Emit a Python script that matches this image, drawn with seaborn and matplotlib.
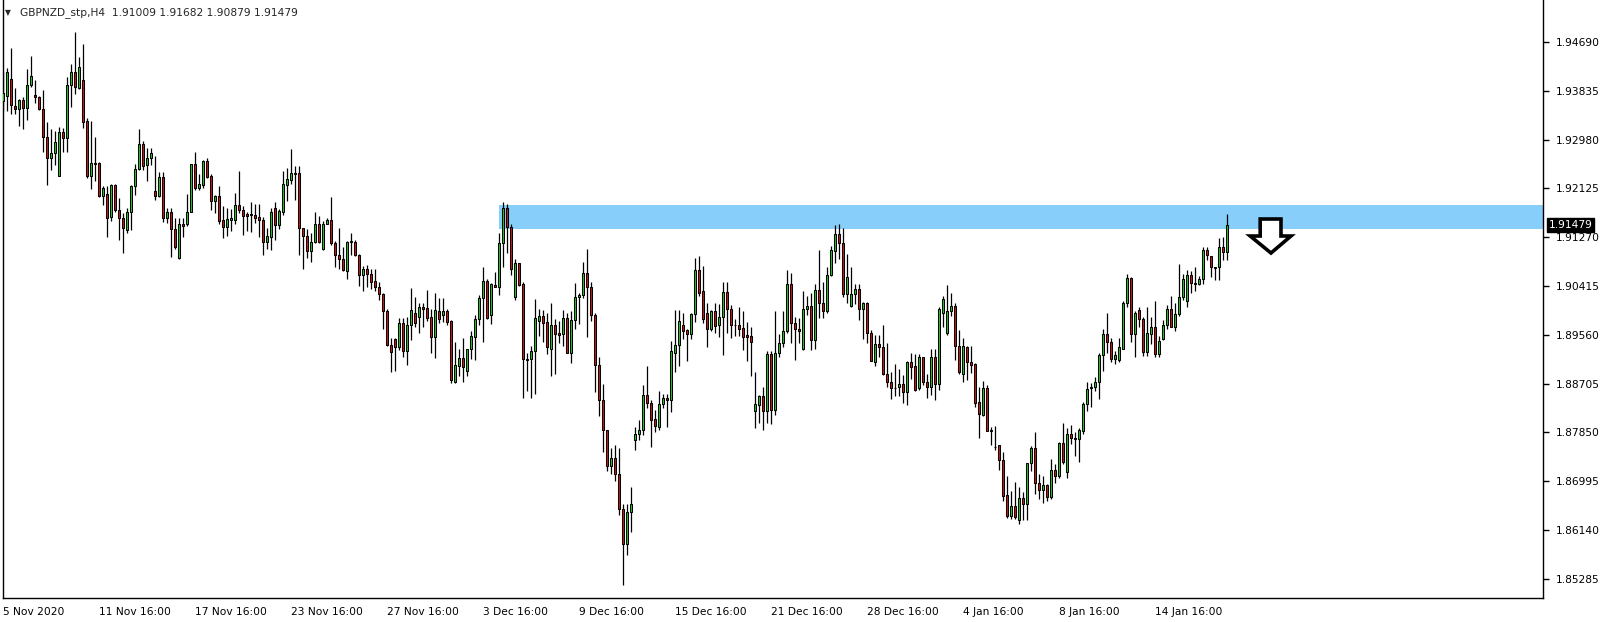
import matplotlib
matplotlib.use('Agg')
import numpy as np
import pandas as pd
import matplotlib.pyplot as plt
from matplotlib.patches import Rectangle, Polygon
import seaborn as sns

sns.set_style('white')
plt.rcParams['font.family'] = ['DejaVu Sans']

# GBPNZD H4 candles
opens = [1.9366, 1.9375, 1.9404, 1.9357, 1.9351, 1.9367, 1.9353, 1.9394, 1.9376, 1.9373,
         1.9351, 1.9303, 1.9265, 1.9275, 1.9235, 1.9312, 1.9300, 1.9393, 1.9416, 1.9388,
         1.9402, 1.9330, 1.9235, 1.9257, 1.9257, 1.9199, 1.9202, 1.9162, 1.9218, 1.9175,
         1.9161, 1.9140, 1.9172, 1.9217, 1.9246, 1.9291, 1.9253, 1.9265, 1.9208, 1.9199,
         1.9232, 1.9160, 1.9171, 1.9141, 1.9090, 1.9151, 1.9150, 1.9172, 1.9255, 1.9213,
         1.9218, 1.9260, 1.9234, 1.9191, 1.9199, 1.9157, 1.9145, 1.9157, 1.9158, 1.9183,
         1.9175, 1.9168, 1.9167, 1.9166, 1.9162, 1.9157, 1.9119, 1.9128, 1.9178, 1.9149,
         1.9172, 1.9219, 1.9228, 1.9239, 1.9239, 1.9144, 1.9130, 1.9102, 1.9118, 1.9150,
         1.9106, 1.9151, 1.9157, 1.9116, 1.9095, 1.9088, 1.9068, 1.9119, 1.9119, 1.9095,
         1.9060, 1.9072, 1.9062, 1.9050, 1.9040, 1.9027, 1.8998, 1.8938, 1.8948, 1.8934,
         1.8976, 1.8928, 1.8973, 1.8995, 1.8988, 1.9005, 1.9003, 1.8987, 1.8953, 1.8998,
         1.8990, 1.8998, 1.8980, 1.8874, 1.8902, 1.8915, 1.8893, 1.8931, 1.8953, 1.8983,
         1.9021, 1.9050, 1.8990, 1.9044, 1.9040, 1.9116, 1.9179, 1.9145, 1.9023, 1.9081,
         1.9045, 1.8913, 1.8913, 1.8927, 1.8981, 1.8989, 1.8978, 1.8932, 1.8973, 1.8959,
         1.8957, 1.8986, 1.8925, 1.8982, 1.9023, 1.9025, 1.9064, 1.9040, 1.8990, 1.8903,
         1.8841, 1.8789, 1.8727, 1.8740, 1.8712, 1.8650, 1.8590, 1.8645, 1.8771, 1.8782,
         1.8789, 1.8851, 1.8837, 1.8808, 1.8794, 1.8834, 1.8846, 1.8841, 1.8925, 1.8938,
         1.8973, 1.8964, 1.8957, 1.8992, 1.9070, 1.9033, 1.8995, 1.8966, 1.8998, 1.8973,
         1.8987, 1.9031, 1.9002, 1.8974, 1.8974, 1.8968, 1.8955, 1.8954, 1.8823, 1.8833,
         1.8849, 1.8823, 1.8922, 1.8824, 1.8924, 1.8941, 1.8962, 1.9045, 1.8976, 1.8967,
         1.8931, 1.9001, 1.9007, 1.8947, 1.9035, 1.9011, 1.8997, 1.9061, 1.9103, 1.9133,
         1.9116, 1.9027, 1.9007, 1.9027, 1.9037, 1.9001, 1.9011, 1.8960, 1.8908, 1.8940,
         1.8934, 1.8888, 1.8874, 1.8862, 1.8865, 1.8870, 1.8856, 1.8908, 1.8901, 1.8862,
         1.8917, 1.8874, 1.8865, 1.8918, 1.8869, 1.8994, 1.8960, 1.8997, 1.9007, 1.8937,
         1.8888, 1.8934, 1.8908, 1.8905, 1.8838, 1.8816, 1.8862, 1.8790, 1.8760, 1.8763,
         1.8736, 1.8675, 1.8639, 1.8656, 1.8632, 1.8670, 1.8660, 1.8731, 1.8757, 1.8697,
         1.8684, 1.8693, 1.8671, 1.8719, 1.8709, 1.8766, 1.8715, 1.8782, 1.8776, 1.8774,
         1.8788, 1.8835, 1.8862, 1.8864, 1.8873, 1.8920, 1.8957, 1.8943, 1.8914, 1.8912,
         1.8932, 1.9011, 1.9055, 1.8957, 1.8999, 1.8983, 1.8926, 1.8958, 1.8969, 1.8922,
         1.8949, 1.8973, 1.9001, 1.8970, 1.8992, 1.9022, 1.9015, 1.9061, 1.9046, 1.9045,
         1.9053, 1.9104, 1.9094, 1.9074, 1.9074, 1.9109, 1.91009]
highs = [1.9417, 1.9424, 1.9458, 1.9388, 1.9369, 1.9373, 1.9422, 1.9444, 1.9402, 1.9374,
         1.9385, 1.9328, 1.9317, 1.9313, 1.9320, 1.9318, 1.9408, 1.9431, 1.9487, 1.9443,
         1.9466, 1.9335, 1.9331, 1.9303, 1.9258, 1.9217, 1.9216, 1.9220, 1.9220, 1.9195,
         1.9169, 1.9179, 1.9218, 1.9255, 1.9316, 1.9296, 1.9284, 1.9283, 1.9269, 1.9242,
         1.9242, 1.9179, 1.9179, 1.9160, 1.9160, 1.9160, 1.9203, 1.9256, 1.9277, 1.9238,
         1.9263, 1.9265, 1.9238, 1.9201, 1.9217, 1.9181, 1.9178, 1.9176, 1.9205, 1.9243,
         1.9181, 1.9172, 1.9188, 1.9185, 1.9185, 1.9162, 1.9144, 1.9178, 1.9188, 1.9176,
         1.9243, 1.9248, 1.9282, 1.9251, 1.9251, 1.9144, 1.9141, 1.9134, 1.9171, 1.9164,
         1.9156, 1.9161, 1.9197, 1.9121, 1.9143, 1.9109, 1.9121, 1.9134, 1.9122, 1.9098,
         1.9077, 1.9078, 1.9072, 1.9072, 1.9049, 1.9029, 1.9002, 1.8950, 1.8950, 1.8985,
         1.8985, 1.8988, 1.9038, 1.9022, 1.9011, 1.9011, 1.9034, 1.9002, 1.9030, 1.9020,
         1.9020, 1.9002, 1.8982, 1.8944, 1.8932, 1.8950, 1.8932, 1.8962, 1.8991, 1.9026,
         1.9074, 1.9053, 1.9047, 1.9066, 1.9134, 1.9188, 1.9186, 1.9150, 1.9088, 1.9082,
         1.9049, 1.8924, 1.8936, 1.9019, 1.9001, 1.8999, 1.8994, 1.9011, 1.8983, 1.8980,
         1.8999, 1.8994, 1.8997, 1.9046, 1.9029, 1.9083, 1.9106, 1.9048, 1.8994, 1.8917,
         1.8870, 1.8789, 1.8757, 1.8763, 1.8757, 1.8660, 1.8660, 1.8690, 1.8795, 1.8807,
         1.8868, 1.8901, 1.8842, 1.8824, 1.8858, 1.8853, 1.8852, 1.8946, 1.9000, 1.9000,
         1.8995, 1.8967, 1.8995, 1.9090, 1.9094, 1.9077, 1.9011, 1.8999, 1.9011, 1.9010,
         1.9049, 1.9049, 1.9008, 1.8984, 1.9004, 1.8997, 1.8979, 1.8969, 1.8890, 1.8851,
         1.8865, 1.8928, 1.8928, 1.8998, 1.8957, 1.8998, 1.9070, 1.9065, 1.8987, 1.8986,
         1.9033, 1.9024, 1.9029, 1.9045, 1.9105, 1.9049, 1.9075, 1.9112, 1.9148, 1.9150,
         1.9144, 1.9098, 1.9074, 1.9045, 1.9045, 1.9014, 1.9014, 1.8964, 1.8956, 1.8956,
         1.8973, 1.8942, 1.8891, 1.8905, 1.8896, 1.8886, 1.8911, 1.8924, 1.8922, 1.8922,
         1.8918, 1.8887, 1.8931, 1.8932, 1.9005, 1.9024, 1.9043, 1.9029, 1.9011, 1.8964,
         1.8950, 1.8936, 1.8936, 1.8906, 1.8864, 1.8875, 1.8868, 1.8795, 1.8796, 1.8763,
         1.8751, 1.8709, 1.8682, 1.8699, 1.8689, 1.8680, 1.8731, 1.8761, 1.8785, 1.8712,
         1.8709, 1.8695, 1.8738, 1.8730, 1.8769, 1.8801, 1.8792, 1.8798, 1.8786, 1.8792,
         1.8839, 1.8874, 1.8872, 1.8882, 1.8924, 1.8967, 1.8994, 1.8950, 1.8928, 1.8950,
         1.9015, 1.9063, 1.9057, 1.8997, 1.9004, 1.8987, 1.9004, 1.8987, 1.9015, 1.8954,
         1.8982, 1.9008, 1.9024, 1.9011, 1.9080, 1.9063, 1.9070, 1.9067, 1.9074, 1.9059,
         1.9109, 1.9109, 1.9094, 1.9075, 1.9126, 1.9128, 1.91682]
lows = [1.9348, 1.9348, 1.9342, 1.9342, 1.9321, 1.9317, 1.9332, 1.9390, 1.9363, 1.9350,
        1.9277, 1.9219, 1.9245, 1.9254, 1.9234, 1.9277, 1.9277, 1.9356, 1.9378, 1.9387,
        1.9318, 1.9230, 1.9211, 1.9226, 1.9198, 1.9183, 1.9128, 1.9156, 1.9172, 1.9123,
        1.9099, 1.9134, 1.9140, 1.9201, 1.9244, 1.9245, 1.9226, 1.9253, 1.9193, 1.9198,
        1.9154, 1.9152, 1.9093, 1.9106, 1.9089, 1.9127, 1.9147, 1.9171, 1.9209, 1.9209,
        1.9214, 1.9230, 1.9175, 1.9170, 1.9150, 1.9126, 1.9129, 1.9138, 1.9151, 1.9170,
        1.9131, 1.9138, 1.9136, 1.9152, 1.9128, 1.9095, 1.9106, 1.9105, 1.9123, 1.9141,
        1.9166, 1.9191, 1.9220, 1.9192, 1.9095, 1.9072, 1.9090, 1.9084, 1.9116, 1.9116,
        1.9105, 1.9150, 1.9113, 1.9074, 1.9072, 1.9068, 1.9053, 1.9096, 1.9094, 1.9042,
        1.9032, 1.9039, 1.9037, 1.9033, 1.9017, 1.8966, 1.8937, 1.8891, 1.8893, 1.8929,
        1.8918, 1.8903, 1.8947, 1.8970, 1.8960, 1.8970, 1.8981, 1.8925, 1.8915, 1.8977,
        1.8979, 1.8973, 1.8871, 1.8871, 1.8884, 1.8874, 1.8883, 1.8913, 1.8912, 1.8973,
        1.8944, 1.8983, 1.8975, 1.9039, 1.9026, 1.9075, 1.9100, 1.9061, 1.9017, 1.9042,
        1.8846, 1.8858, 1.8845, 1.8852, 1.8954, 1.8944, 1.8922, 1.8883, 1.8887, 1.8942,
        1.8937, 1.8925, 1.8906, 1.8966, 1.8975, 1.9021, 1.8952, 1.8981, 1.8856, 1.8814,
        1.8751, 1.8718, 1.8712, 1.8700, 1.8640, 1.8518, 1.8570, 1.8610, 1.8754, 1.8772,
        1.8781, 1.8827, 1.8760, 1.8785, 1.8789, 1.8827, 1.8794, 1.8821, 1.8891, 1.8901,
        1.8948, 1.8911, 1.8949, 1.8979, 1.9024, 1.8977, 1.8935, 1.8962, 1.8960, 1.8953,
        1.8920, 1.8960, 1.8951, 1.8954, 1.8954, 1.8929, 1.8911, 1.8884, 1.8792, 1.8801,
        1.8789, 1.8801, 1.8799, 1.8816, 1.8917, 1.8935, 1.8960, 1.8942, 1.8912, 1.8942,
        1.8930, 1.8991, 1.8929, 1.8931, 1.8985, 1.8985, 1.8994, 1.9059, 1.9082, 1.9088,
        1.9022, 1.9011, 1.9005, 1.9010, 1.8982, 1.8948, 1.8942, 1.8911, 1.8902, 1.8918,
        1.8886, 1.8865, 1.8843, 1.8848, 1.8848, 1.8837, 1.8833, 1.8879, 1.8858, 1.8859,
        1.8868, 1.8845, 1.8851, 1.8842, 1.8859, 1.8970, 1.8956, 1.8989, 1.8912, 1.8887,
        1.8874, 1.8877, 1.8889, 1.8830, 1.8775, 1.8814, 1.8788, 1.8763, 1.8755, 1.8719,
        1.8665, 1.8635, 1.8634, 1.8633, 1.8625, 1.8632, 1.8632, 1.8718, 1.8677, 1.8668,
        1.8662, 1.8665, 1.8668, 1.8697, 1.8705, 1.8730, 1.8705, 1.8765, 1.8744, 1.8734,
        1.8782, 1.8823, 1.8830, 1.8858, 1.8844, 1.8893, 1.8924, 1.8908, 1.8905, 1.8908,
        1.8932, 1.9005, 1.8944, 1.8918, 1.8969, 1.8919, 1.8919, 1.8940, 1.8918, 1.8918,
        1.8947, 1.8966, 1.8969, 1.8962, 1.8989, 1.9017, 1.9005, 1.9029, 1.9032, 1.9043,
        1.9045, 1.9087, 1.9057, 1.9052, 1.9052, 1.9087, 1.90879]
closes = [1.9379, 1.9416, 1.9358, 1.9351, 1.9367, 1.9353, 1.9393, 1.9409, 1.9372, 1.9351,
          1.9303, 1.9265, 1.9275, 1.9294, 1.9312, 1.9300, 1.9393, 1.9416, 1.9390, 1.9426,
          1.9329, 1.9235, 1.9257, 1.9256, 1.9199, 1.9213, 1.9161, 1.9218, 1.9175, 1.9161,
          1.9143, 1.9172, 1.9217, 1.9246, 1.9291, 1.9251, 1.9265, 1.9274, 1.9199, 1.9232,
          1.9160, 1.9171, 1.9141, 1.9110, 1.9151, 1.9147, 1.9172, 1.9255, 1.9213, 1.9220,
          1.9260, 1.9233, 1.9191, 1.9199, 1.9156, 1.9145, 1.9159, 1.9161, 1.9183, 1.9174,
          1.9165, 1.9165, 1.9166, 1.9161, 1.9157, 1.9119, 1.9129, 1.9172, 1.9149, 1.9173,
          1.9220, 1.9229, 1.9239, 1.9237, 1.9144, 1.9130, 1.9102, 1.9118, 1.9150, 1.9119,
          1.9151, 1.9158, 1.9116, 1.9095, 1.9088, 1.9069, 1.9119, 1.9120, 1.9096, 1.9060,
          1.9072, 1.9062, 1.9049, 1.9040, 1.9027, 1.8998, 1.8938, 1.8926, 1.8934, 1.8976,
          1.8928, 1.8973, 1.9000, 1.8977, 1.9005, 1.9001, 1.8986, 1.8953, 1.9000, 1.8984,
          1.8998, 1.8979, 1.8876, 1.8903, 1.8915, 1.8900, 1.8931, 1.8954, 1.8983, 1.9020,
          1.9050, 1.8985, 1.9045, 1.9040, 1.9116, 1.9179, 1.9145, 1.9072, 1.9081, 1.9043,
          1.8913, 1.8912, 1.8927, 1.8985, 1.8989, 1.8976, 1.8935, 1.8973, 1.8958, 1.8956,
          1.8986, 1.8925, 1.8982, 1.9023, 1.9025, 1.9064, 1.9040, 1.8990, 1.8903, 1.8841,
          1.8789, 1.8727, 1.8740, 1.8712, 1.8650, 1.8590, 1.8645, 1.8660, 1.8783, 1.8790,
          1.8851, 1.8837, 1.8807, 1.8797, 1.8835, 1.8846, 1.8841, 1.8928, 1.8938, 1.8980,
          1.8963, 1.8957, 1.8992, 1.9070, 1.9030, 1.8983, 1.8966, 1.8998, 1.8972, 1.8988,
          1.9031, 1.9002, 1.8973, 1.8973, 1.8967, 1.8953, 1.8953, 1.8943, 1.8834, 1.8849,
          1.8823, 1.8922, 1.8824, 1.8925, 1.8941, 1.8963, 1.9045, 1.8976, 1.8967, 1.8962,
          1.9001, 1.9007, 1.8947, 1.9035, 1.9011, 1.8997, 1.9061, 1.9105, 1.9133, 1.9116,
          1.9027, 1.9057, 1.9027, 1.9037, 1.9001, 1.9011, 1.8959, 1.8911, 1.8940, 1.8934,
          1.8887, 1.8874, 1.8862, 1.8862, 1.8870, 1.8856, 1.8908, 1.8900, 1.8859, 1.8917,
          1.8874, 1.8865, 1.8918, 1.8869, 1.9002, 1.9018, 1.8998, 1.9007, 1.8937, 1.8890,
          1.8936, 1.8908, 1.8904, 1.8837, 1.8817, 1.8862, 1.8788, 1.8788, 1.8760, 1.8736,
          1.8674, 1.8639, 1.8656, 1.8636, 1.8670, 1.8660, 1.8731, 1.8757, 1.8697, 1.8684,
          1.8693, 1.8671, 1.8719, 1.8709, 1.8766, 1.8734, 1.8782, 1.8776, 1.8774, 1.8789,
          1.8835, 1.8861, 1.8865, 1.8873, 1.8921, 1.8957, 1.8943, 1.8914, 1.8920, 1.8934,
          1.9011, 1.9055, 1.8957, 1.8994, 1.8983, 1.8926, 1.8959, 1.8969, 1.8922, 1.8946,
          1.8974, 1.9001, 1.8970, 1.8992, 1.9022, 1.9053, 1.9061, 1.9046, 1.9045, 1.9053,
          1.9105, 1.9095, 1.9074, 1.9073, 1.9109, 1.9101, 1.91479]

price_ticks = [1.94690, 1.93835, 1.92980, 1.92125, 1.91270, 1.90415,
               1.89560, 1.88705, 1.87850, 1.86995, 1.86140, 1.85285]
date_bars = [0, 24, 48, 72, 96, 120, 144, 168, 192, 216, 240, 264, 288]
date_labels = ['5 Nov 2020', '11 Nov 16:00', '17 Nov 16:00', '23 Nov 16:00',
               '27 Nov 16:00', '3 Dec 16:00', '9 Dec 16:00', '15 Dec 16:00',
               '21 Dec 16:00', '28 Dec 16:00', '4 Jan 16:00', '8 Jan 16:00',
               '14 Jan 16:00']

# resistance zone and the short arrow drawn on the chart
zone_start, zone_top, zone_bottom = 123.9, 1.91834, 1.91419
arrow_x = [314.2, 319.4, 319.4, 321.9, 316.9, 311.7, 314.2]
arrow_y = [1.91589, 1.91589, 1.91291, 1.91291, 1.90993, 1.91291, 1.91291]

df = pd.DataFrame({'open': opens, 'high': highs, 'low': lows, 'close': closes})
df['bar'] = np.arange(len(df))
df['up'] = df['close'] >= df['open']

W, H = 1604, 622
fig = plt.figure(figsize=(W / 100, H / 100), dpi=100)
ax = fig.add_axes([2.5 / W, 24.5 / H, 1540.5 / W, 597.5 / H])
ax.set_xlim(-0.2, 384.9)
ax.set_ylim(1.84958, 1.95426)

ax.add_patch(Rectangle((zone_start, zone_bottom), 400, zone_top - zone_bottom,
                       facecolor='#87cefa', edgecolor='none', zorder=1))

ax.vlines(df['bar'], df['low'], df['high'], color='black', linewidth=0.9, zorder=2)
body_colors = np.where(df['up'], '#1fc81f', '#d01414')
ax.bar(df['bar'], (df['close'] - df['open']).abs(),
       bottom=df[['open', 'close']].min(axis=1), width=0.56,
       color=body_colors, edgecolor='black', linewidth=0.75, zorder=3)

ax.add_patch(Polygon(list(zip(arrow_x, arrow_y)), closed=True, facecolor='white',
                     edgecolor='black', linewidth=2.6, zorder=4, joinstyle='miter'))

ax.spines['top'].set_visible(False)
for side in ['left', 'right', 'bottom']:
    ax.spines[side].set_color('black')
    ax.spines[side].set_linewidth(1)

ax.yaxis.tick_right()
ax.set_yticks(price_ticks)
ax.set_yticklabels([f'{p:.5f}' for p in price_ticks])
ax.set_xticks(date_bars)
ax.set_xticklabels(date_labels)
for lbl in ax.get_xticklabels():
    lbl.set_horizontalalignment('left')
ax.tick_params(axis='both', direction='out', length=4, width=1, color='black',
               labelsize=7.7, labelcolor='black', pad=2)
ax.tick_params(axis='y', pad=5)
ax.tick_params(axis='x', pad=3)

# last price tag
ax.annotate(f'{closes[-1]:.5f}', xy=(1.0, closes[-1]), xycoords=('axes fraction', 'data'),
            xytext=(4, 0), textcoords='offset points', va='center', ha='left',
            fontsize=7.7, color='white',
            bbox=dict(boxstyle='square,pad=0.18', facecolor='black', edgecolor='black'))

fig.text(5 / W, 1 - 13 / H, '\u25bc', fontsize=5.5, va='center', ha='left')
fig.text(20 / W, 1 - 12.5 / H,
         f'GBPNZD_stp,H4  {opens[-1]:.5f} {highs[-1]:.5f} {lows[-1]:.5f} {closes[-1]:.5f}',
         fontsize=7.7, va='center', ha='left')

fig.savefig('out.png', dpi=100)
